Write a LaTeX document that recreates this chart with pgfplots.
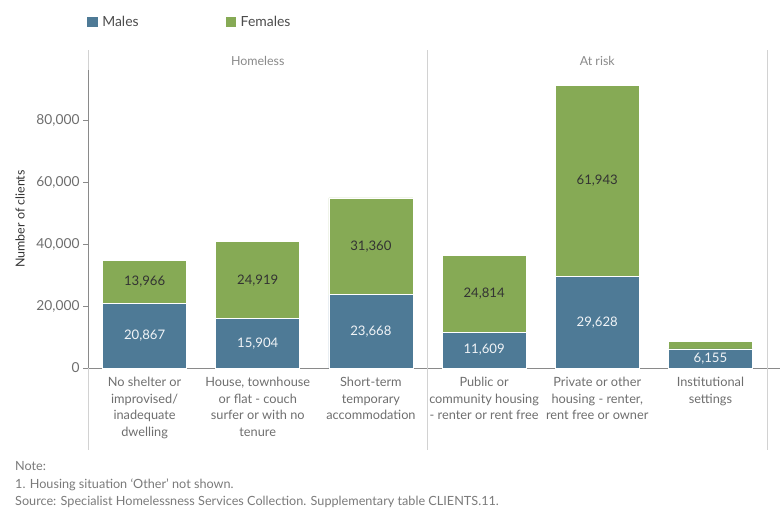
\documentclass[border=0pt]{standalone}
\usepackage{pgfplots}
\pgfplotsset{compat=1.18}
\usepackage{pgfplotstable}
\usepackage{fontspec}
\setmainfont{Lato}

\definecolor{males}{HTML}{4E7A96}
\definecolor{females}{HTML}{86AA55}
\definecolor{ticktext}{HTML}{6E6E6E}
\definecolor{axisline}{HTML}{8A8A8A}
\definecolor{sepline}{HTML}{D2D2D2}
\definecolor{headtext}{HTML}{8A8A8A}
\definecolor{notetext}{HTML}{7A7A7A}

\pgfplotsset{/pgf/number format/assume math mode=true}

% Clients by housing situation and sex
\pgfplotstableread{
x m f
0 20867 13966
1 15904 24919
2 23668 31360
3 11609 24814
4 29628 61943
5 6155 2300
}\clients

\newcommand{\fs}[1]{\fontsize{#1}{#1}\selectfont}

\begin{document}
\begin{tikzpicture}[x=1bp,y=1bp]
\path[use as bounding box] (0bp,0bp) rectangle (780bp,520bp);

% bars, axes and legend
\begin{axis}[
  at={(88bp,152bp)}, anchor=south west,
  width=679bp, height=298bp, scale only axis,
  xmin=-0.5, xmax=5.5, ymin=0, ymax=96440,
  ybar stacked, bar width=84bp,
  clip=false,
  axis lines*=left,
  axis line style={axisline, line width=0.8bp},
  xtick={0,1,2,3,4,5},
  xticklabels={
    {No shelter or\\improvised/\\inadequate\\dwelling},
    {House, townhouse\\or flat - couch\\surfer or with no\\tenure},
    {Short-term\\temporary\\accommodation},
    {Public or\\community housing\\- renter or rent free},
    {Private or other\\housing - renter,\\rent free or owner},
    {Institutional\\settings}},
  xtick style={draw=none},
  xticklabel style={align=center, font=\fontsize{12.8}{16.7}\selectfont,
    text=ticktext, anchor=north, yshift=-0.5bp},
  ytick={0,20000,40000,60000,80000},
  scaled y ticks=false,
  yticklabel={\pgfmathprintnumber[fixed,precision=0,1000 sep={,}]{\tick}},
  ytick style={axisline, line width=0.8bp},
  tick align=outside, major tick length=5bp,
  yticklabel style={font=\fs{13.8}, text=ticktext},
  ylabel={Number of clients},
  ylabel style={at={(axis description cs:-0.1001,0.5)}, anchor=center,
    font=\fs{12.5}, text=black!80},
  legend columns=2,
  legend style={at={(axis description cs:-0.0015,1.161)}, anchor=west,
    draw=none, inner sep=0pt, font=\fs{14}, text=black!70,
    /tikz/every even column/.append style={column sep=85bp}},
  legend image code/.code={\fill[#1, draw=none] (0bp,-5.3bp) rectangle (10.6bp,5.3bp);},
]
\addplot[fill=males, draw=white, line width=0.8bp] table[x=x, y=m]{\clients};
\addplot[fill=females, draw=white, line width=0.8bp] table[x=x, y=f]{\clients};
\legend{\hspace{2.5bp}Males, \hspace{2.5bp}Females}

% panel separators and headers
\draw[sepline, line width=0.8bp] (axis cs:-0.5,102900) -- (axis cs:-0.5,96440);
\draw[sepline, line width=0.8bp] (axis cs:-0.5,0) -- (axis cs:-0.5,-26534);
\draw[sepline, line width=0.8bp] (axis cs:2.5,102900) -- (axis cs:2.5,-26534);
\draw[sepline, line width=0.8bp] (axis cs:5.5,102900) -- (axis cs:5.5,-26534);
\draw[axisline, line width=0.8bp] (axis cs:5.5,0) -- (axis cs:5.615,0);
\node[font=\fs{12.5}, text=headtext] at (axis cs:1,99340) {Homeless};
\node[font=\fs{12.5}, text=headtext] at (axis cs:4,99340) {At risk};
\end{axis}

% value labels, centred in each segment
\begin{axis}[
  at={(88bp,152bp)}, anchor=south west,
  width=679bp, height=298bp, scale only axis,
  xmin=-0.5, xmax=5.5, ymin=0, ymax=96440,
  hide axis, clip=false,
  nodes near coords={\pgfmathprintnumber[fixed,precision=0,1000 sep={,}]{\pgfplotspointmeta}},
  point meta=explicit,
]
\addplot[draw=none, mark=none,
  nodes near coords style={anchor=center, font=\fs{13.2}, text=white!92!males}]
  table[x=x, y expr=\thisrow{m}/2, meta=m]{\clients};
\addplot[draw=none, mark=none, skip coords between index={5}{6},
  nodes near coords style={anchor=center, font=\fs{13.2}, text=black!80}]
  table[x=x, y expr=\thisrow{m}+\thisrow{f}/2, meta=f]{\clients};
\end{axis}

% notes
\begin{scope}[every node/.style={anchor=base west, inner sep=0pt, font=\fs{12.7}, text=notetext}]
\node at (15bp,49bp) {Note:};
\node at (15bp,32bp) {1. Housing situation `Other' not shown.};
\node at (15bp,15bp) {Source: Specialist Homelessness Services Collection. Supplementary table CLIENTS.11.};
\end{scope}
\end{tikzpicture}
\end{document}
